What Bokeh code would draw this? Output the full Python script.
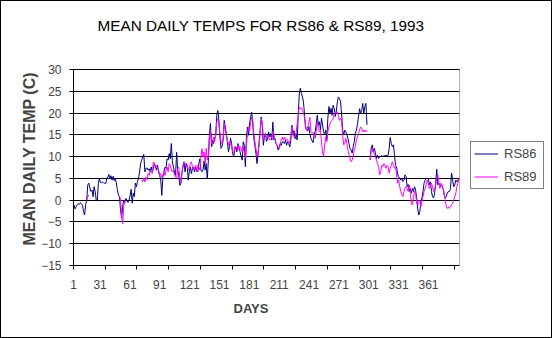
import numpy as np
from bokeh.plotting import figure
from bokeh.models import (ColumnDataSource, FixedTicker, Legend, Label,
                          LegendItem, Range1d, Title, BoxAnnotation)
from bokeh.embed import file_html
from bokeh.resources import INLINE

# ---------------- data ----------------
days = list(range(1, 366))

rs86 = [
    -1.1, -2.0, -1.5, -1.0, -0.8, -1.0, -0.6, -0.8, -1.2, -2.6,
    -3.4, -1.0, 0.0, 3.5, 3.9, 2.8, 2.0, 2.3, 0.8, 3.1,
    2.0, 0.0, -0.2, 3.9, 5.0, 4.0, 4.0, 4.2, 4.0, 3.9,
    3.8, 5.0, 5.3, 5.9, 4.9, 5.6, 4.6, 5.5, 4.5, 4.9,
    4.0, 2.4, 1.2, 0.8, -2.3, -4.1, -1.5, 0.0, -0.6, 0.4,
    0.0, -0.5, 0.0, 1.0, 2.5, -0.7, 1.6, 0.8, 3.9, 3.1,
    4.3, 5.0, 6.5, 8.5, 9.2, 9.9, 10.5, 6.5, 7.3, 7.4,
    6.9, 7.2, 6.5, 7.6, 6.5, 7.3, 8.4, 7.6, 6.9, 8.0,
    6.5, 5.7, 4.6, 1.1, 5.3, 6.5, 7.6, 7.3, 9.5, 9.2,
    10.7, 9.5, 13.0, 8.8, 7.6, 6.5, 5.7, 11.0, 6.9, 5.7,
    3.4, 3.8, 6.1, 7.6, 8.8, 6.5, 8.4, 8.0, 4.6, 6.5,
    7.6, 6.1, 7.3, 7.6, 6.5, 7.6, 6.9, 6.5, 8.4, 9.5,
    6.9, 6.5, 7.0, 9.0, 6.9, 8.4, 4.9, 9.0, 14.9, 17.6,
    12.3, 13.8, 13.0, 14.2, 14.9, 19.5, 20.6, 18.3, 14.2, 11.9,
    12.3, 13.8, 18.3, 16.8, 15.3, 13.4, 11.1, 12.3, 14.2, 13.0,
    10.7, 10.0, 11.5, 12.3, 11.1, 13.0, 12.3, 11.1, 10.0, 9.2,
    13.4, 12.6, 7.7, 14.2, 16.8, 14.9, 17.6, 19.1, 20.2, 17.6,
    14.2, 12.6, 10.7, 8.4, 10.4, 13.4, 16.0, 19.1, 17.2, 12.6,
    14.5, 15.3, 13.5, 14.1, 15.7, 14.5, 15.3, 13.8, 17.9, 13.8,
    14.1, 13.0, 12.6, 11.5, 11.9, 13.0, 12.6, 13.4, 13.4, 13.0,
    13.8, 12.6, 13.4, 13.0, 12.2, 13.8, 17.2, 15.3, 16.0, 14.1,
    15.3, 13.8, 19.5, 24.4, 25.7, 24.5, 23.7, 22.5, 19.5, 16.5,
    16.3, 15.9, 16.9, 15.3, 14.2, 13.7, 13.2, 14.9, 15.7, 17.5,
    19.5, 17.2, 18.0, 16.1, 18.8, 17.3, 15.7, 15.0, 16.1, 13.8,
    18.8, 21.5, 19.9, 21.1, 19.5, 21.8, 21.1, 19.2, 20.3, 22.6,
    23.7, 23.3, 22.6, 19.9, 16.1, 15.0, 16.1, 15.7, 15.0, 14.2,
    13.0, 11.9, 11.5, 10.8, 12.3, 13.4, 15.3, 16.1, 17.3, 19.2,
    21.0, 19.9, 20.6, 22.2, 19.9, 21.5, 22.2, 17.3, None, None,
    9.2, 11.9, 12.7, 11.1, 11.9, 10.8, 9.6, 10.3, 9.6, 10.0,
    10.0, 10.3, 10.0, 10.2, 10.2, 10.2, 10.2, 10.3, 11.9, 14.4,
    13.0, 12.3, 12.7, 10.5, 8.0, 7.7, 6.0, 5.4, 5.0, 4.6,
    5.0, 4.3, 4.6, 5.8, 5.4, 3.1, 3.6, 2.0, 2.7, 1.6,
    2.7, 2.0, 3.1, 2.3, 0.5, -2.0, -3.4, -2.6, -0.3, 0.5,
    2.0, 3.9, 4.6, 5.0, 5.0, 5.0, 3.5, 4.2, 2.0, 0.8,
    0.5, 1.6, 3.9, 7.1, 3.5, 3.9, 3.5, 3.5, 3.1, 2.7,
    1.2, 0.5, 0.8, 1.6, 2.0, 2.0, 2.7, 6.2, 4.6, 3.1,
    3.5, 4.6, 4.2, 4.6, 5.0,
]

rs89 = (
    [None] * 12 + [0.0, 0.8, 1.2] + [None] * 28 +
    [0.8, 0.3, -3.7, -5.4, -1.5, 0.0] + [None] * 15 +
    [4.6, 4.2, 5.0, 4.2, 5.3, 4.7,
     6.1, 5.7, 6.9, 6.5, 6.1, 8.8, 8.4, 7.6, 8.0, 7.3,
     6.9, 5.7, 6.1, 5.3, 5.7, 6.5, 5.7, 6.9, 7.6, 6.5,
     8.4, 8.0, 6.9, 6.5, 6.9, 5.7, 5.3, 5.0, 7.3, 7.6,
     5.3, 4.2, 6.1, 8.0, 8.8, 8.4, 7.6, 8.0, 6.9, 7.3,
     8.4, 8.8, 7.6, 6.9, 7.3, 8.0, 6.5, 8.0, 7.6, 6.9,
     10.0, 11.8, 10.0, 11.1, 8.4, 11.9, 9.2, 10.0, 14.2, 16.0,
     13.4, 12.6, 14.5, 13.4, 15.3, 18.0, 18.7, 17.6, 15.3, 13.4,
     13.0, 14.2, 17.6, 16.0, 14.9, 13.8, 12.6, 13.4, 13.0, 12.3,
     11.1, 10.7, 12.3, 11.5, 11.9, 12.6, 11.5, 12.3, 11.9, 11.1,
     12.3, 11.1, 9.6, 12.6, 15.3, 16.8, 16.0, 17.9, 19.0, 18.3,
     15.3, 13.4, 11.9, 10.0, 11.1, 12.6, 15.3, 18.7, 17.9, 14.2,
     13.8, 15.3, 14.5, 14.9, 14.5, 13.8, 14.1, 14.1, 15.7, 14.9,
     14.1, 13.0, 12.6, 12.2, 11.8, 13.0, 13.8, 14.5, 13.8, 14.5,
     13.8, 14.1, 13.8, 13.0, 13.4, 14.9, 16.8, 15.3, 14.5, 14.5,
     15.3, 17.6, 19.5, 21.4, 21.0, 21.2, 20.6, 20.0, 19.0, 16.9,
     16.0, 16.8, 17.8, 19.0, 15.7, 15.5, 15.5, 15.0, 14.2, 15.7,
     18.0, 16.5, 15.7, 16.0, 13.4, 10.8, 10.0, 12.7, 14.5, 13.4,
     15.7, 16.8, 17.6, 18.0, 18.3, 18.7, 19.9, 20.3, 19.9, 20.3,
     19.5, 18.3, 18.8, 18.3, 15.0, 12.7, 13.0, 14.2, 13.0, 11.5,
     10.5, 9.5, 8.8, 9.2, 10.0, 11.5, 12.3, 13.8, 14.5, 15.3,
     16.1, 16.8, 16.5, 15.7, 16.1, 15.7, 16.1, 15.7, None, None,
     9.2, 11.5, 11.9, 11.1, 10.5, 10.0, 9.2, 8.4, 7.7, 5.8,
     6.5, 8.0, 7.7, 8.4, 8.0, 7.3, 8.0, 7.7, 6.2, 7.3,
     8.0, 8.8, 8.0, 7.3, 7.7, 5.8, 3.9, 4.6, 3.1, 2.0,
     1.2, 0.8, 2.0, 2.7, 3.1, 2.7, 2.0, 3.5, 1.6, -0.7,
     -1.1, 0.8, 2.0, 1.6, -0.7, -1.1, -0.7, 0.0, -1.5, -0.3,
     0.8, 2.0, 2.7, 3.5, 4.6, 3.9, 2.7, 3.5, 3.9, 3.1,
     2.0, 2.7, 3.5, 5.0, 5.8, 4.2, 2.7, 3.9, 3.5, 2.7,
     1.6, 0.0, -1.5, -1.9, -1.5, -1.9, -1.5, -1.1, -0.7, 0.0,
     0.8, 1.6, 3.1, 3.9, 5.0]
)

y_ticks = [-15, -10, -5, 0, 5, 10, 15, 20, 25, 30]
x_tick_labels = ["1", "31", "61", "91", "121", "151", "181", "211",
                 "241", "271", "301", "331", "361"]

# ---------------- layout constants ----------------
FONT = "Liberation Sans"
NAVY = "#000080"
MAGENTA = "#FF00FF"

N_DAYS = len(days)
Y_MIN, Y_MAX = y_ticks[0], y_ticks[-1]
PLOT_W, PLOT_H = 386, 196           # pixel size of the data area
FRAME_W, FRAME_H = 476, 256         # frame also hosts the title and legend
x_end = N_DAYS * FRAME_W / PLOT_W
y_end = Y_MAX + (FRAME_H - PLOT_H) * (Y_MAX - Y_MIN) / PLOT_H

x = np.array(days, dtype=float) - 0.5
src = ColumnDataSource(dict(x=x,
                            rs86=np.array(rs86, dtype=float),
                            rs89=np.array(rs89, dtype=float)))

p = figure(frame_width=FRAME_W, frame_height=FRAME_H, output_backend="svg",
           toolbar_location=None,
           x_range=Range1d(0, x_end), y_range=Range1d(Y_MIN, y_end),
           min_border_left=72, min_border_right=2,
           min_border_top=8, min_border_bottom=72)
p.styles = {"border": "1px solid black"}
p.background_fill_color = "white"
p.border_fill_color = "white"
p.outline_line_color = None
p.title.text = ""

# plot-area border
p.add_layout(BoxAnnotation(left=0, right=N_DAYS, bottom=Y_MIN, top=Y_MAX,
                           fill_color=None, fill_alpha=0,
                           line_color="black", line_width=1, level="underlay"))

# chart title (frame-relative screen position)
p.add_layout(Label(x=24, y=240, x_units="screen", y_units="screen",
                   text="MEAN DAILY TEMPS FOR RS86 & RS89, 1993",
                   text_font=FONT, text_font_size="15.3px",
                   text_align="left", text_baseline="middle",
                   text_color="black"))

# grid
p.xgrid.visible = False
p.ygrid.ticker = FixedTicker(ticks=y_ticks)
p.ygrid.grid_line_color = "black"
p.ygrid.grid_line_width = 1
p.ygrid.bounds = (Y_MIN, Y_MAX)
try:
    p.ygrid.cross_bounds = (0, N_DAYS)
except Exception:
    p.ygrid.visible = False
    p.segment(x0=[0] * len(y_ticks), x1=[N_DAYS] * len(y_ticks),
              y0=y_ticks, y1=y_ticks, line_color="black", line_width=1,
              level="underlay")

# y axis
ya = p.yaxis[0]
ya.ticker = FixedTicker(ticks=y_ticks)
ya.bounds = (Y_MIN, Y_MAX)
ya.major_tick_out = 4
ya.major_tick_in = 0
ya.minor_tick_line_color = None
ya.axis_line_color = "black"
ya.major_tick_line_color = "black"
ya.major_label_text_font = FONT
ya.major_label_text_font_size = "12px"
ya.major_label_standoff = 8

ytitle = Title(text="MEAN DAILY TEMP (C)", text_font=FONT,
               text_font_size="16px", text_font_style="bold",
               align="left", offset=20, standoff=2)
p.add_layout(ytitle, "left")

# x axis: labels spaced as Excel drew them, tick marks on category boundaries
label_pos = [max(0.0, round(-3.1 + 28.23 * i, 2)) for i in range(len(x_tick_labels))]
xa = p.xaxis[0]
xa.ticker = FixedTicker(ticks=label_pos, minor_ticks=[30 * i for i in range(13)])
xa.major_label_overrides = {pos: lab for pos, lab in zip(label_pos, x_tick_labels)}
xa.bounds = (0, N_DAYS)
xa.major_tick_out = 4
xa.major_tick_in = 0
xa.major_tick_line_color = None
xa.minor_tick_out = 4
xa.minor_tick_in = 0
xa.minor_tick_line_color = "black"
xa.axis_line_color = "black"
xa.major_label_text_font = FONT
xa.major_label_text_font_size = "12px"
xa.major_label_standoff = 10

xtitle = Title(text="DAYS", text_font=FONT, text_font_size="13px",
               text_font_style="bold", align="left", offset=160, standoff=14)
p.add_layout(xtitle, "below")

# series
r1 = p.line("x", "rs86", source=src, line_color=NAVY, line_width=1)
r2 = p.line("x", "rs89", source=src, line_color=MAGENTA, line_width=1)

legend = Legend(items=[LegendItem(label="RS86", renderers=[r1]),
                       LegendItem(label="RS89", renderers=[r2])],
                location=(397, 76), border_line_color="black",
                border_line_width=1, background_fill_color="white",
                background_fill_alpha=1.0,
                label_text_font=FONT, label_text_font_size="13px",
                glyph_width=24, glyph_height=17, label_height=17,
                label_width=36, spacing=6, padding=3, margin=0,
                label_standoff=6)
p.add_layout(legend, "center")

open("out.html", "w").write(file_html(p, INLINE))
